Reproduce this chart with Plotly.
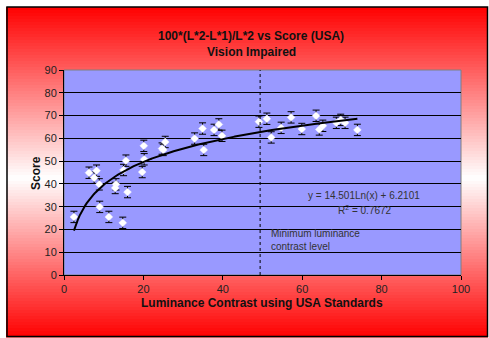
import numpy as np
import plotly.graph_objects as go

# ---- data ----
contrast = [2.5, 6.3, 8.2, 7.6, 8.9, 9.0, 11.3, 13.1, 12.9, 15.0, 15.6, 16.0, 14.8,
            20.1, 20.2, 19.7, 24.7, 25.5, 25.0, 32.9, 34.9, 35.2, 37.8, 39.0, 39.8,
            49.1, 51.1, 52.2, 54.7, 57.2, 59.9, 63.5, 64.3, 65.2, 68.6, 69.7, 70.8, 73.9]
score = [25.5, 44.9, 45.8, 42.7, 39.8, 29.9, 25.5, 39.8, 38.2, 46.1, 50.2, 36.4, 22.9,
         56.7, 50.8, 45.2, 55.5, 58.4, 54.9, 59.9, 64.3, 54.9, 63.7, 66.1, 61.1,
         67.3, 68.6, 60.4, 64.6, 69.2, 64.1, 69.9, 63.9, 65.5, 66.8, 68.1, 66.8, 63.7]
err = 2.5
trend_a, trend_b = 14.501, 6.2101
r2 = 0.7672
min_level = 49.4
x_ticks = [0, 20, 40, 60, 80, 100]
y_ticks = [0, 10, 20, 30, 40, 50, 60, 70, 80, 90]

W, H = 489, 338
L, R, T, B = 64, 28, 70, 63
ph = H - T - B
pw = W - L - R

def py2paper(py):
    return (H - B - py) / ph

def px2paper(px):
    return (px - L) / pw

FONT = "Arial, Liberation Sans, sans-serif"

fig = go.Figure()

fig.add_trace(go.Scatter(
    x=contrast, y=score, mode="markers",
    marker=dict(symbol="diamond", size=6, color="white",
                line=dict(color="#f0f0ff", width=0.5)),
    error_y=dict(type="constant", value=err, color="black", thickness=1, width=3.5),
    showlegend=False))

# trendline (drawn over markers as in the reference)
xt = np.linspace(min(contrast), max(contrast), 200)
yt = trend_a * np.log(xt) + trend_b
fig.add_trace(go.Scatter(x=xt, y=yt, mode="lines", line=dict(color="black", width=2),
                         hoverinfo="skip", showlegend=False))

shapes = []
# background gradient (red -> white -> red)
top, bot, mid = 7, 337, 178
N = 110
edges = np.linspace(top, bot, N + 1)
for i in range(N):
    yc = (edges[i] + edges[i + 1]) / 2
    if yc <= mid:
        f = (mid - yc) / (mid - top)
    else:
        f = (yc - mid) / (bot - mid)
    f = min(max(f, 0), 1)
    g = int(round(255 * (1 - f)))
    shapes.append(dict(type="rect", xref="paper", yref="paper", layer="below",
                       x0=px2paper(6), x1=px2paper(488),
                       y0=py2paper(edges[i + 1] + 0.5), y1=py2paper(edges[i]),
                       fillcolor=f"rgb(255,{g},{g})", line=dict(width=0)))
# outer frame
shapes.append(dict(type="rect", xref="paper", yref="paper", layer="below",
                   x0=px2paper(7), x1=px2paper(487.5), y0=py2paper(336.5), y1=py2paper(7),
                   line=dict(color="black", width=1.5), fillcolor="rgba(0,0,0,0)"))
# plot area
shapes.append(dict(type="rect", xref="paper", yref="paper", layer="below",
                   x0=0, x1=1, y0=0, y1=1, fillcolor="#9999ff",
                   line=dict(color="#808080", width=1)))
# minimum luminance level dotted line
shapes.append(dict(type="line", xref="x", yref="y", x0=min_level, x1=min_level,
                   y0=0, y1=90, line=dict(color="black", width=1, dash="dot")))

annotations = [
    dict(text="<b>100*(L*2-L*1)/L*2 vs Score (USA)</b>", xref="paper", yref="paper",
         x=px2paper(251), y=py2paper(27), showarrow=False,
         font=dict(family=FONT, size=12, color="#111")),
    dict(text="<b>Vision Impaired</b>", xref="paper", yref="paper",
         x=px2paper(251), y=py2paper(43), showarrow=False,
         font=dict(family=FONT, size=12, color="#111")),
    dict(text="<b>Luminance Contrast using USA Standards</b>", xref="paper", yref="paper",
         x=px2paper(262), y=py2paper(312), showarrow=False,
         font=dict(family=FONT, size=12, color="#111")),
    dict(text="<b>Score</b>", xref="paper", yref="paper", textangle=-90,
         x=px2paper(27), y=py2paper(173), showarrow=False,
         font=dict(family=FONT, size=12, color="#111")),
    dict(text=f"y = {trend_a}Ln(x) + {trend_b}", xref="x", yref="y",
         x=75.6, y=34.8, showarrow=False,
         font=dict(family=FONT, size=10, color="#333")),
    dict(text=f"R<sup>2</sup> = {r2}", xref="x", yref="y",
         x=75.7, y=28.5, showarrow=False,
         font=dict(family=FONT, size=10, color="#333")),
    dict(text="Minimum luminance<br>contrast level", xref="x", yref="y",
         x=51.6, y=15.3, xanchor="left", align="left", showarrow=False,
         font=dict(family=FONT, size=10, color="#333")),
]

fig.update_layout(
    width=W, height=H,
    margin=dict(l=L, r=R, t=T, b=B),
    paper_bgcolor="white", plot_bgcolor="#9999ff",
    shapes=shapes, annotations=annotations,
    font=dict(family=FONT, size=11, color="#222"),
    xaxis=dict(range=[0, 100], tickvals=x_ticks, showgrid=False, zeroline=False,
               showline=True, linecolor="black", linewidth=1,
               ticks="outside", ticklen=4, tickcolor="black",
               tickfont=dict(family=FONT, size=11, color="#222")),
    yaxis=dict(range=[0, 90], tickvals=y_ticks, showgrid=True, gridcolor="black",
               gridwidth=1, zeroline=False, showline=True, linecolor="black", linewidth=1,
               ticks="outside", ticklen=4, tickcolor="black",
               tickfont=dict(family=FONT, size=11, color="#222")),
)

fig.write_html("out.html")
